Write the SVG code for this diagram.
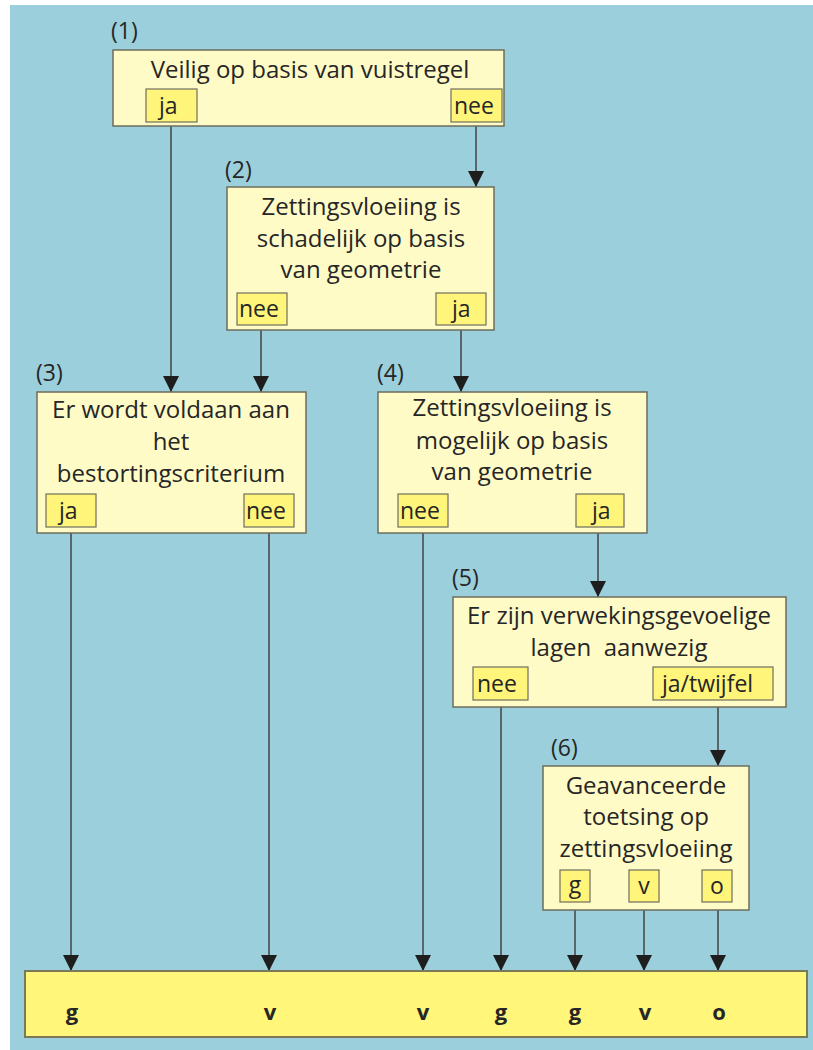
<svg xmlns="http://www.w3.org/2000/svg" width="813" height="1050" viewBox="0 0 813 1050">
<defs>
<style>
.bg{fill:#9bcfdb}
.box{fill:#fffbc6;stroke:#6e6e5e;stroke-width:1.5}
.lab{fill:#fff57a;stroke:#6e6e5e;stroke-width:1.2}
.bar{fill:#fff67a;stroke:#7a7a5a;stroke-width:2}
.t{font-family:"Open Sans","Liberation Sans",sans-serif;font-size:24px;fill:#262626;text-anchor:middle}
.n{font-family:"Open Sans","Liberation Sans",sans-serif;font-size:23px;fill:#262626}
.b{font-family:"Open Sans","Liberation Sans",sans-serif;font-size:22px;font-weight:bold;fill:#262626;text-anchor:middle}
.c{stroke:#444;stroke-width:1.5;fill:none;marker-end:url(#ah)}
</style>
<marker id="ah" viewBox="0 0 16 16" refX="16" refY="8" markerWidth="16" markerHeight="16" markerUnits="userSpaceOnUse" orient="auto">
<path d="M0,0 L16,8 L0,16 Z" fill="#1e1e1e"/>
</marker>
</defs>
<rect x="10" y="5" width="803" height="1045" class="bg"/>

<g id="connectors">
<line class="c" x1="171" y1="122" x2="171" y2="392"/>
<line class="c" x1="476" y1="122" x2="476" y2="187"/>
<line class="c" x1="261" y1="325" x2="261" y2="392"/>
<line class="c" x1="461" y1="325" x2="461" y2="392"/>
<line class="c" x1="71" y1="527" x2="71" y2="971"/>
<line class="c" x1="269" y1="527" x2="269" y2="971"/>
<line class="c" x1="423" y1="527" x2="423" y2="971"/>
<line class="c" x1="598" y1="527" x2="598" y2="597"/>
<line class="c" x1="501" y1="700" x2="501" y2="971"/>
<line class="c" x1="718" y1="700" x2="718" y2="766"/>
<line class="c" x1="575" y1="902" x2="575" y2="971"/>
<line class="c" x1="644" y1="902" x2="644" y2="971"/>
<line class="c" x1="718" y1="902" x2="718" y2="971"/>
</g>

<g id="node1">
<text class="n" x="111" y="39">(1)</text>
<rect class="box" x="113" y="50" width="391" height="76"/>
<text class="t" x="310" y="78">Veilig op basis van vuistregel</text>
<rect class="lab" x="146" y="89" width="51" height="33"/>
<text class="n" x="159" y="114">ja</text>
<rect class="lab" x="451" y="89" width="51" height="33"/>
<text class="n" x="454" y="114">nee</text>
</g>

<g id="node2">
<text class="n" x="225" y="178">(2)</text>
<rect class="box" x="227" y="187" width="267" height="143"/>
<text class="t" x="361" y="215">Zettingsvloeiing is</text>
<text class="t" x="361" y="247">schadelijk op basis</text>
<text class="t" x="361" y="278">van geometrie</text>
<rect class="lab" x="237" y="293" width="50" height="32"/>
<text class="n" x="239" y="317">nee</text>
<rect class="lab" x="436" y="293" width="50" height="32"/>
<text class="n" x="452" y="317">ja</text>
</g>

<g id="node3">
<text class="n" x="36" y="381">(3)</text>
<rect class="box" x="37" y="392" width="269" height="141"/>
<text class="t" x="171" y="418">Er wordt voldaan aan</text>
<text class="t" x="171" y="450">het</text>
<text class="t" x="171" y="482">bestortingscriterium</text>
<rect class="lab" x="46" y="494" width="50" height="33"/>
<text class="n" x="59" y="519">ja</text>
<rect class="lab" x="244" y="494" width="50" height="33"/>
<text class="n" x="246" y="519">nee</text>
</g>

<g id="node4">
<text class="n" x="377" y="381">(4)</text>
<rect class="box" x="378" y="392" width="269" height="141"/>
<text class="t" x="512" y="416">Zettingsvloeiing is</text>
<text class="t" x="512" y="449">mogelijk op basis</text>
<text class="t" x="512" y="480">van geometrie</text>
<rect class="lab" x="398" y="494" width="50" height="33"/>
<text class="n" x="400" y="519">nee</text>
<rect class="lab" x="576" y="494" width="48" height="33"/>
<text class="n" x="592" y="519">ja</text>
</g>

<g id="node5">
<text class="n" x="452" y="586">(5)</text>
<rect class="box" x="453" y="597" width="333" height="110"/>
<text class="t" x="619" y="624">Er zijn verwekingsgevoelige</text>
<text class="t" x="619" y="656" xml:space="preserve">lagen  aanwezig</text>
<rect class="lab" x="473" y="667" width="55" height="33"/>
<text class="n" x="477" y="692">nee</text>
<rect class="lab" x="653" y="667" width="120" height="33"/>
<text class="n" x="662" y="692">ja/twijfel</text>
</g>

<g id="node6">
<text class="n" x="551" y="756">(6)</text>
<rect class="box" x="543" y="766" width="206" height="144"/>
<text class="t" x="646" y="794">Geavanceerde</text>
<text class="t" x="646" y="825">toetsing op</text>
<text class="t" x="646" y="857">zettingsvloeiing</text>
<rect class="lab" x="560" y="870" width="30" height="32"/>
<text class="n" x="575" y="893" text-anchor="middle">g</text>
<rect class="lab" x="629" y="870" width="30" height="32"/>
<text class="n" x="644" y="894" text-anchor="middle">v</text>
<rect class="lab" x="702" y="870" width="30" height="32"/>
<text class="n" x="717" y="894" text-anchor="middle">o</text>
</g>

<g id="outcomes">
<rect class="bar" x="25" y="971" width="782" height="66"/>
<text class="b" x="72" y="1020">g</text>
<text class="b" x="270" y="1020">v</text>
<text class="b" x="423" y="1020">v</text>
<text class="b" x="501" y="1020">g</text>
<text class="b" x="575" y="1020">g</text>
<text class="b" x="645" y="1020">v</text>
<text class="b" x="719" y="1020">o</text>
</g>
</svg>
